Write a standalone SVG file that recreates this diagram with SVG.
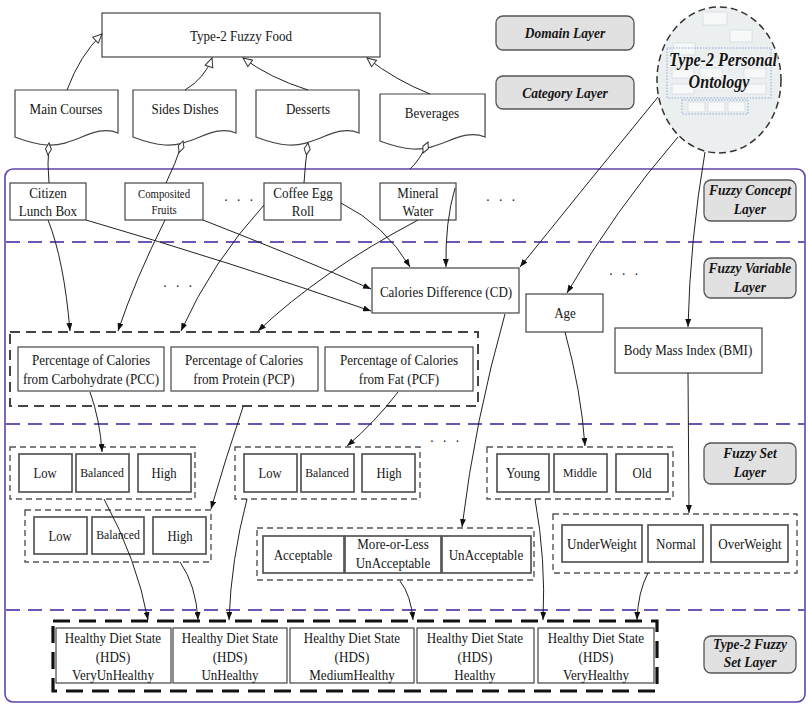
<svg xmlns="http://www.w3.org/2000/svg" width="808" height="704" viewBox="0 0 808 704">
<defs>
<style>
text{font-family:'Liberation Serif','Times New Roman',serif;fill:#151515;text-anchor:middle;font-size:15px;transform-box:fill-box;transform-origin:center;transform:scaleX(0.87)}
.box{fill:#fff;stroke:#444;stroke-width:1.2}
.set{fill:#fff;stroke:#555;stroke-width:1.7}
.doc{fill:#fff;stroke:#444;stroke-width:1.2}
.grp{fill:none;stroke:#555;stroke-width:1.4;stroke-dasharray:6 4}
.vgrp{fill:none;stroke:#444;stroke-width:2;stroke-dasharray:10 6}
.hgrp{fill:none;stroke:#111;stroke-width:3.2;stroke-dasharray:17 9}
.layer rect{fill:#e1e1e1;stroke:#555;stroke-width:1.3}
.layer text{font-weight:bold;font-style:italic;font-size:15.5px}
.sep{stroke:#6c55b4;stroke-width:1.8;stroke-dasharray:14 8;fill:none}
.frame{fill:none;stroke:#5e45a8;stroke-width:1.6}
.edge{fill:none;stroke:#222;stroke-width:1;marker-end:url(#arr)}
.inh{fill:none;stroke:#222;stroke-width:1;marker-end:url(#tri)}
.agg{fill:none;stroke:#222;stroke-width:1;marker-start:url(#dia)}
.st{font-size:14.5px}
.sm{font-size:13.5px}
.xs{font-size:12.4px}
.dots{font-size:15px;letter-spacing:3px}
.mini{fill:#f7f9f9;stroke:#d3dde0;stroke-width:0.8}
.mdot{fill:none;stroke:#8aa8da;stroke-width:1;stroke-dasharray:1.5 1.5}
.title{font-size:18.5px;font-weight:bold;font-style:italic;stroke:#f4f6f6;stroke-width:2.5;paint-order:stroke}
</style>
<marker id="arr" markerWidth="8" markerHeight="6" refX="8" refY="3" orient="auto" markerUnits="userSpaceOnUse"><path d="M0,0 L8,3 L0,6 z" fill="#111"/></marker>
<marker id="tri" markerWidth="11" markerHeight="10" refX="10" refY="5" orient="auto" markerUnits="userSpaceOnUse"><path d="M1,1 L10,5 L1,9 z" fill="#fff" stroke="#333"/></marker>
<marker id="dia" markerWidth="14" markerHeight="8" refX="1" refY="4" orient="auto" markerUnits="userSpaceOnUse"><path d="M1,4 L7,1 L13,4 L7,7 z" fill="#fff" stroke="#333"/></marker>
<path id="docshape" d="M0,0 H103 V43 C80,33 60,57 32,55 C18,54 8,50 0,47 Z"/>
</defs>

<!-- layer frame and separators -->
<g id="layers">
<rect class="frame" x="5" y="169" width="800" height="533" rx="8"/>
<path class="sep" d="M6,242 H805"/>
<path class="sep" d="M6,424 H805"/>
<path class="sep" d="M6,610 H805"/>
</g>

<!-- layer labels -->
<g id="label-domain" class="layer"><rect x="496" y="16" width="138" height="34" rx="7"/><text x="565" y="38">Domain Layer</text></g>
<g id="label-category" class="layer"><rect x="496" y="76" width="138" height="33" rx="7"/><text x="565" y="98">Category Layer</text></g>
<g id="label-concept" class="layer"><rect x="704" y="180" width="92" height="41" rx="7"/><text x="750" y="195">Fuzzy Concept</text><text x="750" y="214">Layer</text></g>
<g id="label-variable" class="layer"><rect x="704" y="258" width="92" height="40" rx="7"/><text x="750" y="273">Fuzzy Variable</text><text x="750" y="292">Layer</text></g>
<g id="label-set" class="layer"><rect x="704" y="443" width="92" height="41" rx="7"/><text x="750" y="458">Fuzzy Set</text><text x="750" y="477">Layer</text></g>
<g id="label-t2set" class="layer"><rect x="704" y="636" width="92" height="37" rx="7"/><text x="750" y="649">Type-2 Fuzzy</text><text x="750" y="667">Set Layer</text></g>

<!-- personal ontology -->
<g id="ontology">
<ellipse cx="719" cy="80" rx="62" ry="73" fill="#eceff0" stroke="#333" stroke-width="1.5" stroke-dasharray="7 4"/>
<rect class="mini" x="703" y="12" width="24" height="13"/>
<rect class="mini" x="673" y="43" width="22" height="12"/>
<rect class="mini" x="730" y="30" width="22" height="12"/>
<rect class="mdot" x="667" y="48" width="104" height="50"/>
<rect class="mini" x="672" y="68" width="22" height="10"/>
<rect class="mini" x="700" y="68" width="22" height="10"/>
<rect class="mini" x="744" y="68" width="22" height="10"/>
<rect class="mini" x="672" y="84" width="22" height="10"/>
<rect class="mini" x="744" y="84" width="22" height="10"/>
<rect class="mdot" x="682" y="100" width="66" height="14"/>
<rect class="mini" x="688" y="102" width="17" height="10"/>
<rect class="mini" x="708" y="102" width="17" height="10"/>
<rect class="mini" x="728" y="102" width="17" height="10"/>
<text class="title" x="723" y="66">Type-2 Personal</text>
<text class="title" x="719" y="88">Ontology</text>
</g>

<!-- domain layer -->
<g id="fuzzy-food"><rect class="box" x="102" y="13" width="278" height="44"/><text x="241" y="41">Type-2 Fuzzy Food</text></g>

<!-- category layer -->
<g id="main-courses"><use href="#docshape" class="doc" transform="translate(15,90)"/><text x="66" y="114">Main Courses</text></g>
<g id="sides-dishes"><use href="#docshape" class="doc" transform="translate(133,90)"/><text x="185" y="114">Sides Dishes</text></g>
<g id="desserts"><use href="#docshape" class="doc" transform="translate(256,90)"/><text x="308" y="114">Desserts</text></g>
<g id="beverages"><use href="#docshape" class="doc" transform="translate(380,94) scale(1.02,1)"/><text x="432" y="118">Beverages</text></g>

<!-- fuzzy concept layer -->
<g id="citizen-lunch-box"><rect class="box" x="10" y="183" width="76" height="37"/><text x="48" y="198">Citizen</text><text x="48" y="216">Lunch Box</text></g>
<g id="composited-fruits"><rect class="box" x="125" y="183" width="78" height="37"/><text class="xs" x="164" y="198">Composited</text><text class="xs" x="164" y="214">Fruits</text></g>
<text class="dots" x="240" y="205">· · ·</text>
<g id="coffee-egg-roll"><rect class="box" x="264" y="183" width="77" height="37"/><text x="303" y="198">Coffee Egg</text><text x="303" y="216">Roll</text></g>
<g id="mineral-water"><rect class="box" x="380" y="183" width="76" height="37"/><text x="418" y="198">Mineral</text><text x="418" y="216">Water</text></g>
<text class="dots" x="502" y="205">· · ·</text>

<!-- fuzzy variable layer -->
<text class="dots" x="179" y="291">· · ·</text>
<g id="cd"><rect class="box" x="372" y="268" width="147" height="45"/><text x="446" y="297">Calories Difference (CD)</text></g>
<g id="age"><rect class="box" x="526" y="294" width="77" height="38"/><text x="565" y="318">Age</text></g>
<text class="dots" x="625" y="279">· · ·</text>
<g id="bmi"><rect class="box" x="615" y="328" width="147" height="45"/><text x="688" y="355">Body Mass Index (BMI)</text></g>
<g id="macro-ratios">
<rect class="vgrp" x="10" y="332" width="468" height="74"/>
<g id="pcc"><rect class="box" x="18" y="347" width="146" height="44"/><text x="91" y="365">Percentage of Calories</text><text x="91" y="384">from Carbohydrate (PCC)</text></g>
<g id="pcp"><rect class="box" x="171" y="347" width="147" height="44"/><text x="244" y="365">Percentage of Calories</text><text x="244" y="384">from Protein (PCP)</text></g>
<g id="pcf"><rect class="box" x="325" y="347" width="148" height="44"/><text x="399" y="365">Percentage of Calories</text><text x="399" y="384">from Fat (PCF)</text></g>
</g>

<!-- fuzzy set layer -->
<g id="pcc-sets">
<rect class="grp" x="10" y="447" width="185" height="52"/>
<rect class="set" x="19" y="454" width="53" height="38"/><text class="st" x="45" y="478">Low</text>
<rect class="set" x="76" y="454" width="53" height="38"/><text class="sm" x="102" y="477">Balanced</text>
<rect class="set" x="138" y="454" width="53" height="38"/><text class="st" x="164" y="478">High</text>
</g>
<g id="pcp-sets">
<rect class="grp" x="25" y="510" width="186" height="52"/>
<rect class="set" x="34" y="517" width="53" height="37"/><text class="st" x="60" y="541">Low</text>
<rect class="set" x="92" y="517" width="52" height="37"/><text class="sm" x="118" y="539">Balanced</text>
<rect class="set" x="153" y="517" width="53" height="37"/><text class="st" x="180" y="541">High</text>
</g>
<g id="pcf-sets">
<rect class="grp" x="235" y="447" width="185" height="52"/>
<rect class="set" x="244" y="454" width="53" height="38"/><text class="st" x="270" y="478">Low</text>
<rect class="set" x="301" y="454" width="53" height="38"/><text class="sm" x="327" y="477">Balanced</text>
<rect class="set" x="362" y="454" width="53" height="38"/><text class="st" x="389" y="478">High</text>
</g>
<text class="dots" x="446" y="446">· · ·</text>
<g id="age-sets">
<rect class="grp" x="487" y="447" width="186" height="52"/>
<rect class="set" x="497" y="454" width="52" height="38"/><text x="523" y="478">Young</text>
<rect class="set" x="554" y="454" width="53" height="38"/><text class="sm" x="580" y="477">Middle</text>
<rect class="set" x="616" y="454" width="52" height="38"/><text class="st" x="642" y="478">Old</text>
</g>
<g id="cd-sets">
<rect class="grp" x="257" y="528" width="277" height="52"/>
<rect class="set" x="263" y="536" width="81" height="37"/><text x="303" y="560">Acceptable</text>
<rect class="set" x="345" y="536" width="96" height="37"/><text x="393" y="549">More-or-Less</text><text x="393" y="568">UnAcceptable</text>
<rect class="set" x="442" y="536" width="89" height="37"/><text x="486" y="560">UnAcceptable</text>
</g>
<g id="bmi-sets">
<rect class="grp" x="553" y="514" width="244" height="59"/>
<rect class="set" x="562" y="525" width="80" height="37"/><text x="602" y="549">UnderWeight</text>
<rect class="set" x="648" y="525" width="55" height="37"/><text x="676" y="549">Normal</text>
<rect class="set" x="711" y="525" width="77" height="37"/><text x="750" y="549">OverWeight</text>
</g>

<!-- type-2 fuzzy set layer -->
<g id="hds-sets">
<rect class="hgrp" x="53" y="621" width="604" height="70"/>
<g id="hds-veryunhealthy"><rect class="box" x="56" y="628" width="115" height="55"/><text x="113" y="643">Healthy Diet State</text><text x="113" y="662">(HDS)</text><text x="113" y="680">VeryUnHealthy</text></g>
<g id="hds-unhealthy"><rect class="box" x="173" y="628" width="114" height="55"/><text x="230" y="643">Healthy Diet State</text><text x="230" y="662">(HDS)</text><text x="230" y="680">UnHealthy</text></g>
<g id="hds-mediumhealthy"><rect class="box" x="290" y="628" width="124" height="55"/><text x="352" y="643">Healthy Diet State</text><text x="352" y="662">(HDS)</text><text x="352" y="680">MediumHealthy</text></g>
<g id="hds-healthy"><rect class="box" x="417" y="628" width="117" height="55"/><text x="475" y="643">Healthy Diet State</text><text x="475" y="662">(HDS)</text><text x="475" y="680">Healthy</text></g>
<g id="hds-veryhealthy"><rect class="box" x="538" y="628" width="116" height="55"/><text x="596" y="643">Healthy Diet State</text><text x="596" y="662">(HDS)</text><text x="596" y="680">VeryHealthy</text></g>
</g>

<!-- connectors -->
<g id="connectors">
<!-- generalisation to the domain -->
<path class="inh" d="M67,90 Q80,55 102,34"/>
<path class="inh" d="M185,90 Q205,78 212,58"/>
<path class="inh" d="M308,90 Q270,78 243,58"/>
<path class="inh" d="M430,94 Q395,80 367,58"/>
<!-- aggregation of concepts -->
<path class="agg" d="M49,143 Q47,165 49,183"/>
<path class="agg" d="M183,141 Q175,165 166,183"/>
<path class="agg" d="M308,143 Q305,165 304,183"/>
<path class="agg" d="M428,142 Q420,160 410,169"/>
<!-- concepts to variables -->
<path class="edge" d="M48,220 Q64,260 70,331"/>
<path class="edge" d="M165,220 Q135,280 118,331"/>
<path class="edge" d="M264,205 Q212,262 181,331"/>
<path class="edge" d="M418,220 Q320,272 258,331"/>
<path class="edge" d="M86,220 Q230,262 371,311"/>
<path class="edge" d="M203,220 Q300,258 371,289"/>
<path class="edge" d="M341,203 Q385,225 410,267"/>
<path class="edge" d="M455,188 Q445,222 446,267"/>
<path class="edge" d="M658,97 Q590,180 520,267"/>
<path class="edge" d="M678,137 Q615,210 567,293"/>
<path class="edge" d="M705,152 Q690,240 688,327"/>
<!-- variables to fuzzy sets -->
<path class="edge" d="M90,392 Q100,420 102,452"/>
<path class="edge" d="M243,407 Q225,460 211,509"/>
<path class="edge" d="M398,392 Q375,422 347,446"/>
<path class="edge" d="M565,332 Q581,390 585,446"/>
<path class="edge" d="M505,314 Q475,420 462,527"/>
<path class="edge" d="M688,373 L689,513"/>
<!-- fuzzy sets to healthy diet states -->
<path class="edge" d="M104,499 Q137,560 148,620"/>
<path class="edge" d="M180,562 Q196,585 198,620"/>
<path class="edge" d="M247,499 Q231,560 229,620"/>
<path class="edge" d="M400,581 Q411,595 413,620"/>
<path class="edge" d="M535,499 Q546,560 543,620"/>
<path class="edge" d="M648,573 Q638,592 637,620"/>
</g>
</svg>
